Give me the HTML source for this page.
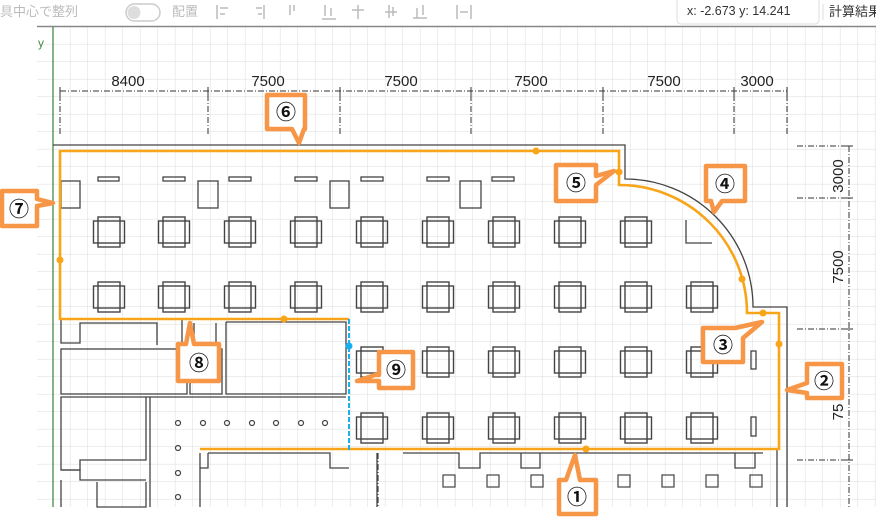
<!DOCTYPE html>
<html><head><meta charset="utf-8"><style>
body{margin:0;width:876px;height:519px;overflow:hidden;background:#fff;font-family:"Liberation Sans","Noto Sans CJK JP",sans-serif}
svg{position:absolute;left:0;top:0}
</style></head><body>
<svg width="876" height="519" viewBox="0 0 876 519" xmlns="http://www.w3.org/2000/svg">
<defs>
<pattern id="g" x="0.5" y="9.5" width="17.5" height="17.5" patternUnits="userSpaceOnUse">
<path d="M17.5 0V17.5M0 17.5H17.5" stroke="#e2e2e2" stroke-width="1.2" fill="none"/>
</pattern>
<g id="p" fill="none" stroke="#444" stroke-width="1.4"><rect x="-11" y="-15" width="22" height="30"/><rect x="-15.5" y="-11" width="31" height="22"/></g>
</defs>
<text x="0" y="16" font-size="13" fill="#bbb">具中心で整列</text>
<rect x="126" y="4" width="34" height="17" rx="8.5" fill="#fff" stroke="#ccc" stroke-width="1.5"/>
<circle cx="134" cy="12.5" r="6.5" fill="#ddd"/>
<text x="172" y="16" font-size="13" fill="#bbb">配置</text>
<g stroke="#bbb" stroke-width="1.5" fill="none">
<path d="M217 5v14M220 8h8M220 14h5"/><path d="M264 5v14M256 8h6M258 14h4"/><path d="M290 5v10M294 5v6"/>
<path d="M322 19h14M325 5v11M331 8v8"/><path d="M352 10h12M358 5v14"/><path d="M385 12h12M389 5v13M393 7v9"/>
<path d="M413 18h14M417 8v10M423 5v10"/><path d="M457 5v14M471 5v14M460 12h8"/>
</g>
<rect x="677" y="-2" width="142" height="26" rx="4" fill="#fff" stroke="#ddd"/>
<text x="687" y="15" font-size="12.5" fill="#333">x:  -2.673  y:  14.241</text>
<line x1="823" y1="4" x2="823" y2="20" stroke="#ddd"/>
<text x="829" y="16" font-size="13" fill="#333">計算結果</text>
<rect x="37" y="26" width="839" height="481" fill="url(#g)"/>
<line x1="37" y1="26.5" x2="876" y2="26.5" stroke="#888" stroke-width="1.5"/>
<line x1="53" y1="27" x2="53" y2="507" stroke="#4a8a4a" stroke-width="1.3"/>
<text x="38" y="47" font-size="12" fill="#4a8a4a">y</text>
<g stroke="#333" stroke-width="1" fill="none" stroke-dasharray="6 2 1 2">
<line x1="60" y1="91" x2="787" y2="91"/>
<path d="M60 95V134M208 95V134M340 95V134M471 95V134M603 95V134M734 95V134M787 95V134"/>
<line x1="849" y1="146" x2="849" y2="507"/>
<path d="M797 146H849M797 198H849M797 329H849M797 460H849"/>
</g>
<g stroke="#333" stroke-width="1"><path d="M60 87v8M208 87v8M340 87v8M471 87v8M603 87v8M734 87v8M787 87v8M845 146h8M845 198h8M845 329h8M845 460h8"/></g>
<g font-size="15" fill="#222" text-anchor="middle">
<text x="128" y="86">8400</text><text x="268" y="86">7500</text><text x="401" y="86">7500</text><text x="531" y="86">7500</text><text x="664" y="86">7500</text><text x="757" y="86">3000</text>
<text transform="translate(843,176) rotate(-90)">3000</text>
<text transform="translate(843,267) rotate(-90)">7500</text>
<text transform="translate(843,412) rotate(-90)">75</text>
</g>
<g fill="none" stroke="#444" stroke-width="1.3">
<path d="M53 145H625V179A128 128 0 0 1 753 307H787V507"/>
<path d="M777 449V507"/>
<rect x="98" y="177" width="21" height="4"/><rect x="163" y="177" width="22" height="4"/><rect x="229" y="177" width="22" height="4"/><rect x="295" y="177" width="22" height="4"/><rect x="361" y="177" width="22" height="4"/><rect x="427" y="177" width="22" height="4"/><rect x="492" y="177" width="22" height="4"/>
<rect x="61" y="181" width="19" height="27"/><rect x="198" y="181" width="20" height="27"/><rect x="330" y="181" width="19" height="27"/><rect x="460" y="181" width="21" height="27"/>
<path d="M686 220V243H712"/>
<rect x="751" y="351" width="5" height="18"/><rect x="751" y="417" width="5" height="19"/>
<path d="M61 319V343H80V323H157V345"/><path d="M182 320V345H216V323"/><path d="M194 323V343"/>
<path d="M226 322H346V394H226V322"/>
<rect x="61" y="349" width="126" height="45"/><rect x="190" y="349" width="32" height="45"/>
<path d="M61 397H146V460H80V470H61Z"/><path d="M61 470H80V480H146"/><path d="M150 397V507"/><path d="M146 397H346"/>
<path d="M61 480V507M97 482V507H146V482"/>
<path d="M200 453V507M208 453H330V468H349"/><path d="M208 453V468H200"/>
<path d="M377 453V507"/><path d="M403 453H459V468H480V453H763"/>
<path d="M521 453V468H540V453"/><path d="M735 453V468H755V453"/>
</g>
<g fill="none" stroke="#444" stroke-width="1.2" stroke-dasharray="6 2 1 2"><path d="M378 453V507"/></g>
<g fill="none" stroke="#444" stroke-width="1.2">
<circle cx="178" cy="423" r="2.5"/><circle cx="203" cy="423" r="2.5"/><circle cx="227" cy="423" r="2.5"/><circle cx="252" cy="423" r="2.5"/><circle cx="276" cy="423" r="2.5"/><circle cx="301" cy="423" r="2.5"/><circle cx="325" cy="423" r="2.5"/>
<circle cx="178" cy="448" r="2.5"/><circle cx="178" cy="473" r="2.5"/><circle cx="178" cy="497" r="2.5"/>
<rect x="443" y="475" width="12" height="12"/><rect x="487" y="475" width="12" height="12"/><rect x="531" y="475" width="12" height="12"/><rect x="618" y="475" width="12" height="12"/><rect x="662" y="475" width="12" height="12"/><rect x="706" y="475" width="12" height="12"/><rect x="750" y="475" width="12" height="12"/>
</g>
<g>
<use href="#p" x="109" y="232"/><use href="#p" x="174" y="232"/><use href="#p" x="240" y="232"/><use href="#p" x="306" y="232"/><use href="#p" x="372" y="232"/><use href="#p" x="438" y="232"/><use href="#p" x="504" y="232"/><use href="#p" x="570" y="232"/><use href="#p" x="636" y="232"/>
<use href="#p" x="109" y="297"/><use href="#p" x="174" y="297"/><use href="#p" x="240" y="297"/><use href="#p" x="306" y="297"/><use href="#p" x="372" y="297"/><use href="#p" x="438" y="297"/><use href="#p" x="504" y="297"/><use href="#p" x="570" y="297"/><use href="#p" x="636" y="297"/><use href="#p" x="702" y="297"/>
<use href="#p" x="372" y="362"/><use href="#p" x="438" y="362"/><use href="#p" x="504" y="362"/><use href="#p" x="570" y="362"/><use href="#p" x="636" y="362"/><use href="#p" x="702" y="362"/>
<use href="#p" x="372" y="428"/><use href="#p" x="438" y="428"/><use href="#p" x="504" y="428"/><use href="#p" x="570" y="428"/><use href="#p" x="636" y="428"/><use href="#p" x="702" y="428"/>
</g>
<path d="M349 319H60V151H619V185A128 128 0 0 1 747 313H779V449H200" fill="none" stroke="#f9a51a" stroke-width="2.6"/>
<line x1="349" y1="319" x2="349" y2="450" stroke="#1ab0f0" stroke-width="2" stroke-dasharray="5 2"/>
<g fill="#f9a51a"><circle cx="536" cy="151" r="3.5"/><circle cx="619" cy="172" r="3.5"/><circle cx="742" cy="279" r="3.5"/><circle cx="763" cy="313" r="3.5"/><circle cx="779" cy="344" r="3.5"/><circle cx="586" cy="449" r="3.5"/><circle cx="284" cy="319" r="3.5"/><circle cx="60" cy="260" r="3.5"/></g>
<circle cx="349" cy="346" r="3.5" fill="#1ab0f0"/>
<g fill="#fff" stroke="#f79646" stroke-width="4.5" stroke-linejoin="round">
<path d="M559 480H566L575 455L580 480H596V514H559Z"/>
<path d="M807 364H842V398H807V393L787 390L807 383Z"/>
<path d="M703 328H735L762 322L743 338V362H703Z"/>
<path d="M706 166H745V201H722L714 212L711 201H706Z"/>
<path d="M556 165H596V176L614 171L596 185V201H556Z"/>
<path d="M267 95H305V129H304L299 143L292 129H267Z"/>
<path d="M2 191H37V199L53 203L37 206V226H2Z"/>
<path d="M178 344H186L190 323L194 344H219V381H178Z"/>
<path d="M379 352H413V388H379V381L357 381L375 375H379Z"/>
</g>
<g font-size="20" fill="#111" text-anchor="middle" font-weight="bold" font-family="'Noto Sans CJK JP','Liberation Sans',sans-serif">
<text x="577" y="504">①</text><text x="824" y="388">②</text><text x="723" y="352">③</text><text x="725" y="191">④</text><text x="576" y="190">⑤</text><text x="286" y="119">⑥</text><text x="19" y="216">⑦</text><text x="199" y="370">⑧</text><text x="396" y="377">⑨</text>
</g>
</svg>
</body></html>
